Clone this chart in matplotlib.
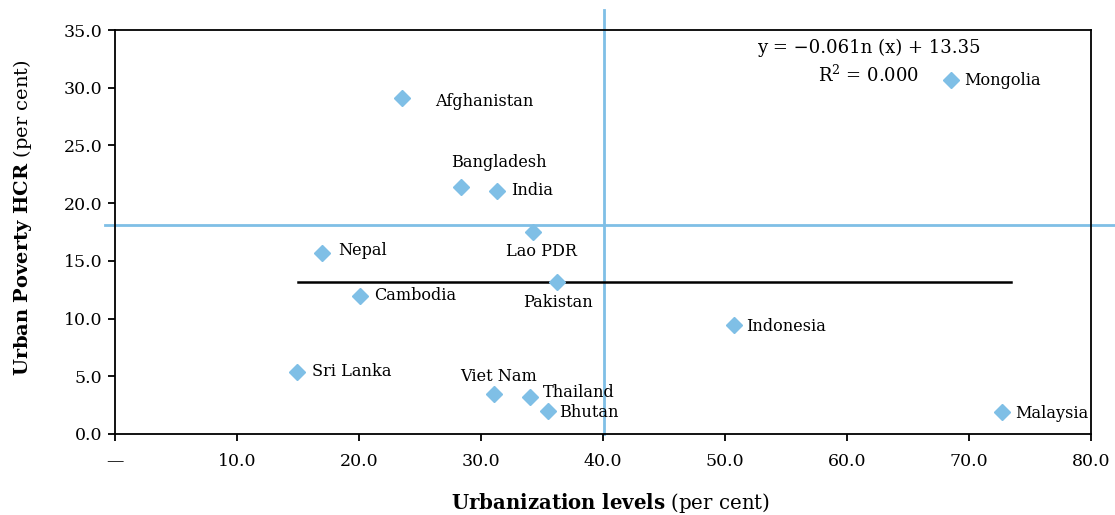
import matplotlib.pyplot as plt
import numpy as np

plt.rcParams['font.family'] = 'DejaVu Serif'
plt.rcParams['mathtext.fontset'] = 'dejavuserif'

countries = ["Afghanistan", "Mongolia", "Bangladesh", "India", "Lao PDR", "Nepal",
             "Pakistan", "Cambodia", "Indonesia", "Sri Lanka", "Viet Nam",
             "Thailand", "Bhutan", "Malaysia"]
urban = [23.5, 68.5, 28.4, 31.3, 34.3, 17.0, 36.2, 20.1, 50.7, 14.9, 31.1, 34.0, 35.5, 72.7]
hcr = [29.1, 30.7, 21.4, 21.05, 17.5, 15.7, 13.2, 11.96, 9.44, 5.37, 3.47, 3.2, 1.99, 1.9]

# label offsets in pixels (dx, dy, ha)
offsets = {
    "Afghanistan": (33, -3, 'left'),
    "Mongolia": (13, -1, 'left'),
    "Bangladesh": (37, 24, 'center'),
    "India": (14, 1, 'left'),
    "Lao PDR": (8, -19, 'center'),
    "Nepal": (16, 2, 'left'),
    "Pakistan": (1, -21, 'center'),
    "Cambodia": (14, 0, 'left'),
    "Indonesia": (13, -1, 'left'),
    "Sri Lanka": (15, 1, 'left'),
    "Viet Nam": (4, 17, 'center'),
    "Thailand": (13, 5, 'left'),
    "Bhutan": (11, -1, 'left'),
    "Malaysia": (13, -1, 'left'),
}

x_mean_line = 40.1
y_mean_line = 18.1
trend_x = [15.0, 73.4]
trend_y = [13.17, 13.17]

blue = '#7fbfe6'

fig = plt.figure(figsize=(11.15, 5.15), dpi=100)
ax = fig.add_axes([0.1031, 0.1573, 0.8754, 0.7844])

ax.plot(urban, hcr, 'D', color=blue, markersize=8.5, zorder=3, clip_on=False)

# logarithmic trendline (flat, R^2 = 0)
ax.plot(trend_x, trend_y, color='black', lw=1.8, zorder=2)

ax.plot([x_mean_line, x_mean_line], [0, 36.7], color=blue, lw=2, clip_on=False, zorder=1)
ax.plot([-0.8, 82], [y_mean_line, y_mean_line], color=blue, lw=2, clip_on=False, zorder=1)

for c, x, y in zip(countries, urban, hcr):
    dx, dy, ha = offsets[c]
    ax.annotate(c, (x, y), xytext=(dx * 0.72, dy * 0.72), textcoords='offset points',
                ha=ha, va='center', fontsize=11.6)

ax.text(0.772, 0.957, "y = \u22120.061n (x) + 13.35", transform=ax.transAxes,
        ha='center', va='center', fontsize=13)
ax.text(0.772, 0.889, "R$^2$ = 0.000", transform=ax.transAxes,
        ha='center', va='center', fontsize=13)

ax.set_xlim(0, 80)
ax.set_ylim(0, 35)
ax.set_xticks(np.arange(0, 81, 10))
ax.set_xticklabels(["\u2014"] + [f"{v:.1f}" for v in range(10, 81, 10)])
ax.set_yticks(np.arange(0, 36, 5))
ax.set_yticklabels([f"{v:.1f}" for v in range(0, 36, 5)])
ax.tick_params(axis='both', direction='out', length=5, width=1.3, labelsize=12.5)
ax.tick_params(axis='x', pad=9)
ax.tick_params(axis='y', pad=4)
for s in ax.spines.values():
    s.set_linewidth(1.3)

ax.set_xlabel(r"$\mathbf{Urbanization\ levels}$ (per cent)", fontsize=14.2)
ax.set_ylabel(r"$\mathbf{Urban\ Poverty\ HCR}$ (per cent)", fontsize=14)
ax.xaxis.set_label_coords(0.508, -0.14)
ax.yaxis.set_label_coords(-0.083, 0.535)

fig.savefig('out.png', dpi=100)
